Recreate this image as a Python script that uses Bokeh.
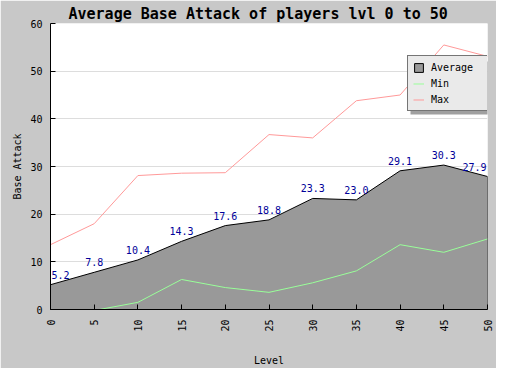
import math
from bokeh.plotting import figure
from bokeh.models import (Range1d, FixedTicker, Label, Legend, LegendItem,
                          BoxAnnotation)
from bokeh.embed import file_html
from bokeh.resources import INLINE

# ---- data ----
levels = [0, 5, 10, 15, 20, 25, 30, 35, 40, 45, 50]
avg_vals = [5.2, 7.8, 10.4, 14.3, 17.6, 18.8, 23.3, 23.0, 29.1, 30.3, 27.9]
min_levels = [5, 10, 15, 20, 25, 30, 35, 40, 45, 50]
min_vals = [-0.2, 1.5, 6.3, 4.6, 3.6, 5.6, 8.1, 13.6, 12.0, 14.8]
max_vals = [13.6, 18.0, 28.1, 28.6, 28.7, 36.7, 36.0, 43.8, 45.0, 55.5, 53.1]
avg_labels = [f"{v:.1f}" for v in avg_vals]
x_ticks = [0, 5, 10, 15, 20, 25, 30, 35, 40, 45, 50]
y_ticks = [0, 10, 20, 30, 40, 50, 60]

title_text = "Average Base Attack of players lvl 0 to 50"
MONO = "DejaVu Sans Mono"

p = figure(width=496, height=368, output_backend="svg", toolbar_location=None,
           x_range=Range1d(0, 50), y_range=Range1d(0, 60),
           min_border_left=50, min_border_right=9, min_border_top=23, min_border_bottom=59,
           background_fill_color="white", border_fill_color="#c8c8c8",
           outline_line_color=None)

# title
p.title.text = title_text
p.title.align = "left"
p.title.offset = 18
p.title.standoff = 2
p.title.text_font = MONO
p.title.text_font_size = "15px"
p.title.text_font_style = "bold"
p.title.text_color = "black"

# average area (polygon closed down to 0)
area_x = levels + [levels[-1], levels[0]]
area_y = avg_vals + [0, 0]
r_avg = p.patch(area_x, area_y, fill_color="#999999", line_color="black", line_width=1)
r_min = p.line(min_levels, min_vals, line_color="#99ff99", line_width=1)
r_max = p.line(levels, max_vals, line_color="#ff9999", line_width=1)

# value labels above the average points (edge labels kept inside the frame)
x_lo, x_hi = min(levels), max(levels)
for xv, yv, tv in zip(levels, avg_vals, avg_labels):
    if xv == x_lo:
        align, xo = "left", 1
    elif xv == x_hi:
        align, xo = "right", -1
    else:
        align, xo = "center", 0
    p.add_layout(Label(x=xv, y=yv, text=tv, text_align=align, x_offset=xo,
                       text_baseline="middle", y_offset=10, text_font=MONO,
                       text_font_size="10px", text_color="#000099"))

# axes
p.xaxis.ticker = FixedTicker(ticks=x_ticks)
p.yaxis.ticker = FixedTicker(ticks=y_ticks)
for ax in (p.xaxis[0], p.yaxis[0]):
    ax.major_tick_in = 5
    ax.major_tick_out = 0
    ax.minor_tick_line_color = None
    ax.axis_line_color = "black"
    ax.major_tick_line_color = "black"
    ax.major_label_text_font = MONO
    ax.major_label_text_font_size = "10px"
    ax.major_label_text_color = "black"
    ax.axis_label_text_font = MONO
    ax.axis_label_text_font_size = "10px"
    ax.axis_label_text_font_style = "normal"
    ax.axis_label_text_color = "black"
p.xaxis.major_label_orientation = math.pi / 2
p.xaxis.major_label_standoff = 10
p.yaxis.major_label_standoff = 8
p.xaxis.axis_label = "Level"
p.xaxis.axis_label_standoff = 20
p.yaxis.axis_label = "Base Attack"
p.yaxis.axis_label_standoff = 4
p.xgrid.visible = False
p.ygrid.grid_line_color = "#dddddd"
p.ygrid.grid_line_width = 1

# legend shadow + legend
shadow = BoxAnnotation(left=360, right=439, bottom=195, top=248,
                       left_units="screen", right_units="screen",
                       bottom_units="screen", top_units="screen",
                       fill_color="#a0a0a0", fill_alpha=1.0, line_color=None)
p.add_layout(shadow)
legend = Legend(items=[LegendItem(label="Average", renderers=[r_avg]),
                       LegendItem(label="Min", renderers=[r_min]),
                       LegendItem(label="Max", renderers=[r_max])],
                location=(357, 198), padding=5, spacing=4, margin=0,
                glyph_width=11, glyph_height=11, label_height=12, label_width=51,
                label_standoff=7, border_line_color="black", border_line_width=1,
                background_fill_color="#eaeaea", background_fill_alpha=1.0,
                label_text_font=MONO, label_text_font_size="10px",
                label_text_color="black")
p.add_layout(legend)

open("out.html", "w").write(file_html(p, INLINE))
